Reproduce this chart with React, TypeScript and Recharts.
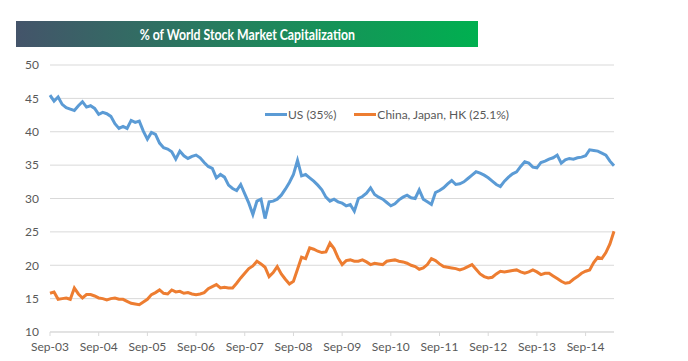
import { LineChart, Line, XAxis, YAxis, CartesianGrid } from "recharts";

// 월별 샘플 (Sep-03 = 0), 그림에서 읽은 값
const usValues = [
  45.5, 44.6, 45.2, 44.1, 43.6, 43.4, 43.2, 43.9, 44.5, 43.7, 43.9, 43.5,
  42.6, 42.9, 42.7, 42.3, 41.2, 40.5, 40.8, 40.5, 41.7, 41.4, 41.6, 40.1,
  38.9, 39.9, 39.6, 38.3, 37.6, 37.4, 37.0, 35.9, 37.1, 36.4, 36.0, 36.3,
  36.5, 36.1, 35.4, 34.8, 34.5, 33.1, 33.6, 33.2, 32.0, 31.5, 31.2, 32.1,
  30.7, 29.3, 27.6, 29.6, 29.9, 27.0, 29.5, 29.6, 29.9, 30.5, 31.4, 32.4,
  33.6, 35.7, 33.4, 33.6, 33.1, 32.6, 32.0, 31.3, 30.2, 29.6, 29.9, 29.5,
  29.3, 28.9, 29.1, 28.1, 30.0, 30.3, 30.8, 31.6, 30.6, 30.2, 29.9, 29.4,
  28.9, 29.2, 29.8, 30.2, 30.5, 30.1, 30.0, 31.3, 29.9, 29.5, 29.1, 30.9,
  31.2, 31.6, 32.2, 32.7, 32.1, 32.2, 32.5, 33.0, 33.5, 34.0, 33.8, 33.5,
  33.1, 32.6, 32.1, 31.8, 32.6, 33.2, 33.7, 34.0, 34.8, 35.5, 35.3, 34.7,
  34.6, 35.4, 35.6, 35.9, 36.1, 36.5, 35.3, 35.8, 36.0, 35.9, 36.1, 36.2,
  36.4, 37.3, 37.2, 37.1, 36.8, 36.5, 35.6, 34.9,
];

const asiaValues = [
  15.8, 16.0, 14.9, 15.0, 15.1, 14.9, 16.6, 15.7, 15.1, 15.6, 15.6, 15.4,
  15.1, 15.0, 14.8, 15.0, 15.1, 14.9, 14.9, 14.6, 14.3, 14.2, 14.1, 14.5,
  14.9, 15.6, 15.9, 16.3, 15.8, 15.7, 16.3, 16.0, 16.1, 15.8, 15.9, 15.7,
  15.6, 15.7, 15.9, 16.5, 16.8, 17.1, 16.6, 16.7, 16.6, 16.6, 17.3, 18.1,
  18.8, 19.5, 19.9, 20.6, 20.2, 19.7, 18.3, 18.9, 19.8, 18.7, 17.9, 17.2,
  17.6, 19.4, 21.2, 21.0, 22.6, 22.4, 22.1, 21.9, 22.0, 23.3, 22.5, 21.1,
  20.1, 20.7, 20.8, 20.6, 20.6, 20.8, 20.5, 20.1, 20.3, 20.2, 20.1, 20.6,
  20.7, 20.8, 20.6, 20.5, 20.3, 20.0, 19.8, 19.4, 19.6, 20.1, 21.0, 20.7,
  20.2, 19.8, 19.7, 19.6, 19.5, 19.3, 19.5, 19.8, 20.1, 19.4, 18.7, 18.3,
  18.1, 18.2, 18.7, 19.1, 19.0, 19.1, 19.2, 19.3, 19.0, 18.8, 19.0, 19.3,
  19.0, 18.6, 18.8, 18.8, 18.4, 18.0, 17.6, 17.3, 17.4, 17.9, 18.3, 18.8,
  19.1, 19.3, 20.4, 21.2, 21.0, 21.9, 23.2, 25.1,
];

const tickLabels = [
  "Sep-03", "Sep-04", "Sep-05", "Sep-06", "Sep-07", "Sep-08",
  "Sep-09", "Sep-10", "Sep-11", "Sep-12", "Sep-13", "Sep-14",
];
const yTicks = [10, 15, 20, 25, 30, 35, 40, 45, 50];

const seriesNames = ["US (35%)", "China, Japan, HK (25.1%)"];
const BLUE = "#5b9bd5";
const ORANGE = "#ed7d31";
const FONT = "Lato, 'Open Sans', sans-serif";

const data = usValues.map((v, i) => ({ m: i, us: v, asia: asiaValues[i] }));
const xTicks = tickLabels.map((_, i) => i * 12);

// 범례는 차트 안쪽 위에 떠 있음 — Recharts Legend 는 높이를 잡아먹어서 따로 그림
function LegendBox() {
  const items = [
    { name: seriesNames[0], color: BLUE },
    { name: seriesNames[1], color: ORANGE },
  ];
  return (
    <div
      style={{
        position: "absolute",
        left: 265,
        top: 107,
        display: "flex",
        alignItems: "center",
        fontFamily: FONT,
        fontSize: 12,
        color: "#595959",
        zIndex: 2,
      }}
    >
      {items.map((it) => (
        <div key={it.name} style={{ display: "flex", alignItems: "center", marginRight: 18 }}>
          <span style={{ display: "inline-block", width: 22, height: 3, background: it.color, marginRight: 1 }} />
          <span>{it.name}</span>
        </div>
      ))}
    </div>
  );
}

export default function App() {
  return (
    <div style={{ position: "absolute", left: 0, top: 0, width: 688, height: 361, background: "#fff", fontFamily: FONT }}>
      <div
        style={{
          position: "absolute",
          left: 16,
          top: 21,
          width: 462,
          height: 26,
          background: "linear-gradient(to right, #44546a, #00b050)",
          color: "#fff",
          fontWeight: 700,
          fontSize: 15,
          lineHeight: "26px",
          textAlign: "center",
        }}
      >
        <span style={{ display: "inline-block", transform: "scaleX(0.82)" }}>
          % of World Stock Market Capitalization
        </span>
      </div>
      <LineChart width={688} height={361} data={data} margin={{ top: 65, right: 74, bottom: 0, left: 0 }}>
        <CartesianGrid stroke="#d9d9d9" vertical={false} />
        <XAxis
          dataKey="m"
          type="number"
          domain={[0, 139]}
          ticks={xTicks}
          tickFormatter={(v) => tickLabels[Math.round(v / 12)]}
          height={29}
          tickSize={4}
          tickMargin={6}
          stroke="#d9d9d9"
          tick={{ fontSize: 12, fill: "#595959", fontFamily: FONT }}
          interval={0}
        />
        <YAxis
          domain={[10, 50]}
          ticks={yTicks}
          width={50}
          axisLine={false}
          tickLine={false}
          tickSize={0}
          tickMargin={11}
          tick={{ fontSize: 12, fill: "#595959", fontFamily: FONT }}
        />
        <Line type="linear" dataKey="us" stroke={BLUE} strokeWidth={3} dot={false} isAnimationActive={false} />
        <Line type="linear" dataKey="asia" stroke={ORANGE} strokeWidth={3} dot={false} isAnimationActive={false} />
      </LineChart>
      <LegendBox />
    </div>
  );
}
